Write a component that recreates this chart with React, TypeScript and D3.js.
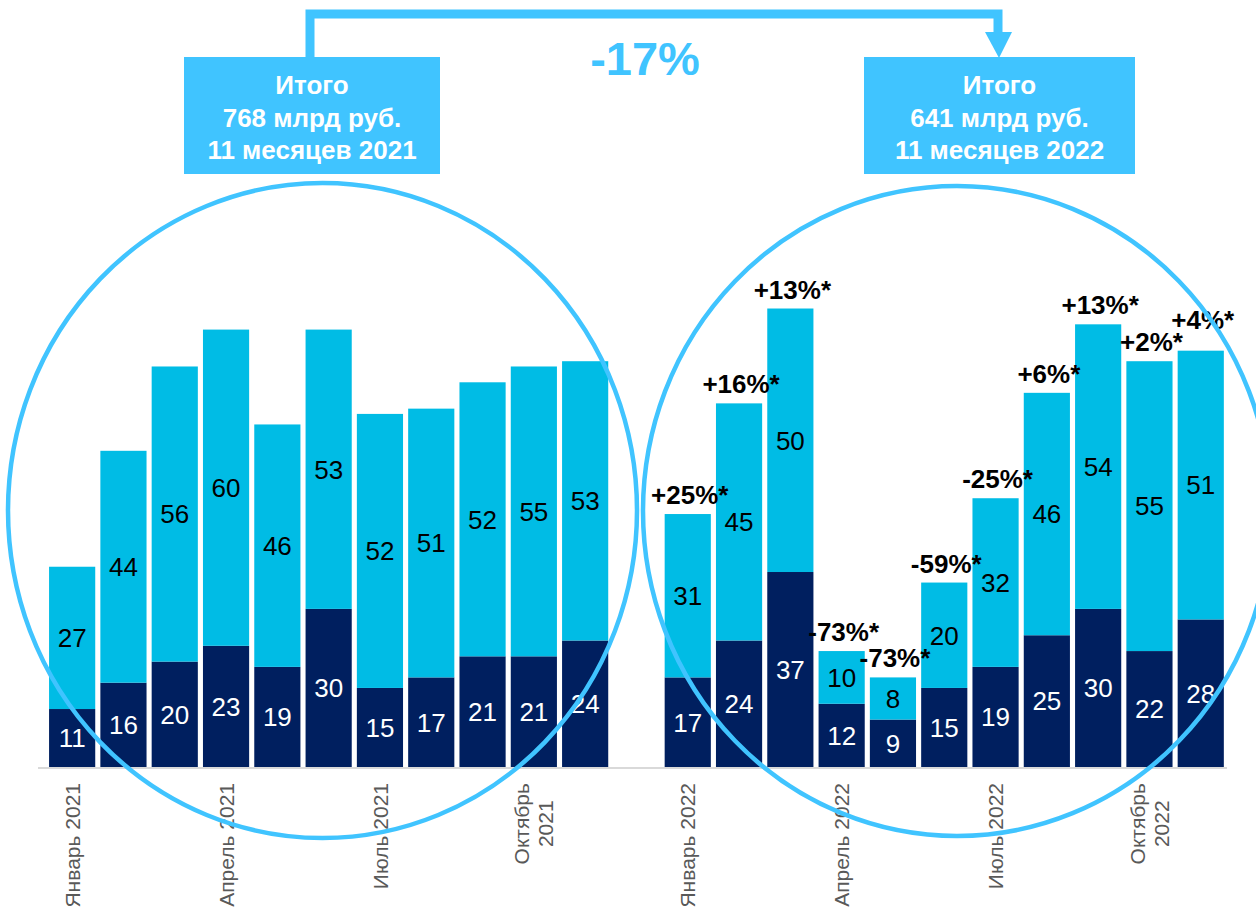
import React, { useEffect, useRef } from "react";
import * as d3 from "d3";

// ---- data ----
const categories = [
  "2021-01", "2021-02", "2021-03", "2021-04", "2021-05", "2021-06",
  "2021-07", "2021-08", "2021-09", "2021-10", "2021-11", "2021-12",
  "2022-01", "2022-02", "2022-03", "2022-04", "2022-05", "2022-06",
  "2022-07", "2022-08", "2022-09", "2022-10", "2022-11",
];
const darkValues: (number | null)[] = [
  11, 16, 20, 23, 19, 30, 15, 17, 21, 21, 24, null,
  17, 24, 37, 12, 9, 15, 19, 25, 30, 22, 28,
];
const lightValues: (number | null)[] = [
  27, 44, 56, 60, 46, 53, 52, 51, 52, 55, 53, null,
  31, 45, 50, 10, 8, 20, 32, 46, 54, 55, 51,
];
const changeLabels: (string | null)[] = [
  null, null, null, null, null, null, null, null, null, null, null, null,
  "+25%*", "+16%*", "+13%*", "-73%*", "-73%*", "-59%*", "-25%*", "+6%*", "+13%*", "+2%*", "+4%*",
];
const tickCategories = ["2021-01", "2021-04", "2021-07", "2021-10", "2022-01", "2022-04", "2022-07", "2022-10"];
const tickLabels = [
  ["Январь 2021"], ["Апрель 2021"], ["Июль 2021"], ["Октябрь", "2021"],
  ["Январь 2022"], ["Апрель 2022"], ["Июль 2022"], ["Октябрь", "2022"],
];
const totalBoxes = [
  ["Итого", "768 млрд руб.", "11 месяцев 2021"],
  ["Итого", "641 млрд руб.", "11 месяцев 2022"],
];
const totalChange = "-17%";

const W = 1256;
const H = 908;
const DARK = "#001f5f";
const LIGHT = "#00bce5";
const ACCENT = "#40c4ff";
const FONT = "Arial, 'Liberation Sans', sans-serif";

export default function App() {
  const ref = useRef<SVGSVGElement | null>(null);

  useEffect(() => {
    const svg = d3.select(ref.current);
    svg.selectAll("*").remove();

    const x = d3.scaleBand<string>().domain(categories).range([46.5, 1226.4]).paddingInner(0.1).paddingOuter(0.05);
    const y = d3.scaleLinear().domain([0, 100]).range([767, 240]);
    const bw = x.bandwidth();

    const idx = d3.range(categories.length).filter((i) => darkValues[i] != null);

    // bars
    const bars = svg.append("g");
    bars.selectAll("rect.dark").data(idx).join("rect")
      .attr("x", (i) => x(categories[i])!)
      .attr("y", (i) => y(darkValues[i]!))
      .attr("width", bw)
      .attr("height", (i) => y(0) - y(darkValues[i]!))
      .attr("fill", DARK);
    bars.selectAll("rect.light").data(idx).join("rect")
      .attr("x", (i) => x(categories[i])!)
      .attr("y", (i) => y(darkValues[i]! + lightValues[i]!))
      .attr("width", bw)
      .attr("height", (i) => y(darkValues[i]!) - y(darkValues[i]! + lightValues[i]!))
      .attr("fill", LIGHT);

    // axis line
    svg.append("line").attr("x1", 38).attr("x2", 1227).attr("y1", 768).attr("y2", 768)
      .attr("stroke", "#d9d9d9").attr("stroke-width", 2);

    // value labels
    const lbl = svg.append("g").attr("font-family", FONT).attr("font-size", 26).attr("text-anchor", "middle");
    lbl.selectAll("text.d").data(idx).join("text")
      .attr("x", (i) => x(categories[i])! + bw / 2)
      .attr("y", (i) => (y(0) + y(darkValues[i]!)) / 2)
      .attr("dy", "0.36em")
      .attr("fill", "#ffffff")
      .text((i) => String(darkValues[i]));
    lbl.selectAll("text.l").data(idx).join("text")
      .attr("x", (i) => x(categories[i])! + bw / 2)
      .attr("y", (i) => (y(darkValues[i]!) + y(darkValues[i]! + lightValues[i]!)) / 2)
      .attr("dy", "0.36em")
      .attr("fill", "#000000")
      .text((i) => String(lightValues[i]));

    // change labels; when two neighbours collide, the one over the taller bar is lifted
    const CAP = 19;
    const ch = idx.filter((i) => changeLabels[i] != null);
    const chg = svg.append("g").attr("font-family", FONT).attr("font-size", 26).attr("font-weight", "bold")
      .attr("text-anchor", "middle").attr("fill", "#000");
    const items = ch.map((i) => {
      const total = darkValues[i]! + lightValues[i]!;
      const t = chg.append("text")
        .attr("x", x(categories[i])! + bw / 2 + 2)
        .attr("y", y(total) - 10)
        .text(changeLabels[i]!);
      const bb = (t.node() as SVGTextElement).getBBox();
      return { t, total, x0: bb.x, x1: bb.x + bb.width, base: y(total) - 10 };
    });
    for (let k = 1; k < items.length; k++) {
      const a = items[k - 1];
      const b = items[k];
      const xOverlap = a.x1 - 3 > b.x0;
      const yOverlap = Math.min(a.base, b.base) > Math.max(a.base, b.base) - CAP;
      if (xOverlap && yOverlap) {
        const [hi, lo] = a.total >= b.total ? [a, b] : [b, a];
        hi.base = lo.base - CAP - 3;
        hi.t.attr("y", hi.base);
      }
    }

    // tick labels
    const ticks = svg.append("g").attr("font-family", FONT).attr("font-size", 21).attr("fill", "#595959");
    tickCategories.forEach((c, k) => {
      const lines = tickLabels[k];
      const g = ticks.append("g")
        .attr("transform", `translate(${x(c)! + bw / 2},783) rotate(-90)`);
      if (lines.length === 1) {
        g.append("text").attr("text-anchor", "end").attr("dy", "0.36em").text(lines[0]);
      } else {
        const ts = lines.map((ln, j) =>
          g.append("text").attr("text-anchor", "middle")
            .attr("y", (j - (lines.length - 1) / 2) * 24)
            .attr("dy", "0.36em").text(ln));
        const maxW = d3.max(ts, (t) => (t.node() as SVGTextElement).getComputedTextLength()) || 0;
        ts.forEach((t) => t.attr("x", -maxW / 2));
      }
    });

    // ellipses
    svg.append("ellipse").attr("cx", 322.5).attr("cy", 510.5).attr("rx", 314.5).attr("ry", 327.5)
      .attr("fill", "none").attr("stroke", ACCENT).attr("stroke-width", 4.5);
    svg.append("ellipse").attr("cx", 957).attr("cy", 511).attr("rx", 314).attr("ry", 325)
      .attr("fill", "none").attr("stroke", ACCENT).attr("stroke-width", 4.5);

    // connector arrow
    svg.append("path").attr("d", "M310,58 V14 H998 V34")
      .attr("fill", "none").attr("stroke", ACCENT).attr("stroke-width", 9).attr("stroke-linejoin", "miter");
    svg.append("path").attr("d", "M985,32 L1012,32 L999,58 Z").attr("fill", ACCENT);

    // total boxes
    const boxes = [
      { x: 184, w: 256 },
      { x: 864, w: 271 },
    ];
    boxes.forEach((b, k) => {
      svg.append("rect").attr("x", b.x).attr("y", 57).attr("width", b.w).attr("height", 117).attr("fill", ACCENT);
      const tg = svg.append("g").attr("font-family", FONT).attr("font-size", 26).attr("font-weight", "bold")
        .attr("fill", "#fff").attr("text-anchor", "middle");
      totalBoxes[k].forEach((ln, j) => {
        tg.append("text").attr("x", b.x + b.w / 2).attr("y", 94 + j * 32.5).text(ln);
      });
    });

    svg.append("text").attr("x", 645).attr("y", 75).attr("text-anchor", "middle")
      .attr("font-family", FONT).attr("font-size", 47).attr("font-weight", "bold").attr("fill", ACCENT)
      .text(totalChange);
  }, []);

  return (
    <svg
      ref={ref}
      width={W}
      height={H}
      style={{ position: "absolute", left: 0, top: 0, background: "#fff", display: "block" }}
    />
  );
}
